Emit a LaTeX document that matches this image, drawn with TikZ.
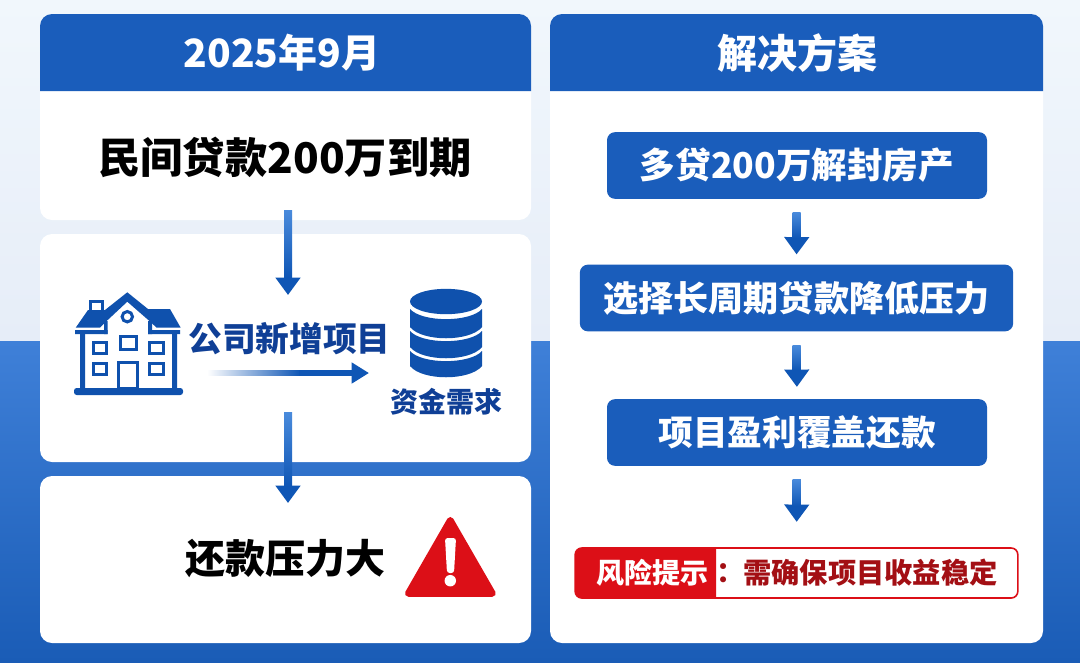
\documentclass[tikz,border=0pt]{standalone}
\usepackage{fontspec}
\setmainfont{Noto Sans CJK SC}
\usetikzlibrary{arrows.meta,positioning}
\definecolor{headblue}{HTML}{1A5DBB}
\definecolor{flowblue}{HTML}{0F56B5}
\definecolor{flowlight}{HTML}{4A8BDC}
\definecolor{navytext}{HTML}{0F3F96}
\definecolor{iconblue}{HTML}{0F51AD}
\definecolor{alertred}{HTML}{DC0F17}
\definecolor{darkred}{HTML}{A30F14}
\definecolor{skytop}{HTML}{F1F7FC}
\definecolor{skylow}{HTML}{E6EDF8}
\definecolor{seatop}{HTML}{3F80D8}
\definecolor{sealow}{HTML}{1A5CB6}

\begin{document}
\begin{tikzpicture}[
    x=0.75pt, y=-0.75pt,
    card/.style={fill=white, rounded corners=9pt},
    head/.style={text=white, inner sep=0pt},
    bigtext/.style={text=black, inner sep=0pt},
    plan/.style={
      fill=headblue,
      rounded corners=6pt,
      minimum height=50pt,
      inner sep=0pt,
      text=white
    },
    flow/.style={-{Triangle[width=18pt,length=13pt]}, line width=6pt, draw=flowblue},
    thinflow/.style={-{Triangle[width=15pt,length=13pt]}, line width=3.75pt, draw=flowblue},
    icon/.style={draw=iconblue, line width=2.25pt, fill=white},
    navy/.style={text=navytext, inner sep=0pt}
  ]
    \useasboundingbox (0,0) rectangle (1080,662);
    \shade[top color=skytop, bottom color=skylow] (0,0) rectangle (1080,341);
    \shade[top color=seatop, bottom color=sealow] (0,341) rectangle (1080,662);

    \fill[card] (40,14) rectangle (531,220);
    \fill[card] (40,234) rectangle (531,462);
    \fill[card] (40,476) rectangle (531,643);
    \fill[card] (550,14) rectangle (1043,643);
    \fill[headblue] (40,91) [rounded corners=9pt] -- (40,14) -- (531,14) [sharp corners] -- (531,91) -- cycle;
    \fill[headblue] (550,91) [rounded corners=9pt] -- (550,14) -- (1043,14) [sharp corners] -- (1043,91) -- cycle;

    \node[head, font=\fontsize{29.2}{36}\selectfont\bfseries] (month) at (282,53) {2025年9月};
    \node[head, font=\fontsize{30}{36}\selectfont\bfseries] (answer) at (797,53) {解决方案};
    \node[bigtext, font=\fontsize{31.7}{38}\selectfont\bfseries] (loan) at (285,157.5) {民间贷款200万到期};
    \node[navy, font=\fontsize{25.3}{30}\selectfont\bfseries] (project) at (289.5,339) {公司新增项目};
    \node[navy, font=\fontsize{21}{26}\selectfont\bfseries] (funds) at (446,402) {资金需求};
    \node[bigtext, font=\fontsize{30}{36}\selectfont\bfseries] (repay) at (285,558) {还款压力大};

    \node[plan, minimum width=285pt, font=\fontsize{26.7}{32}\selectfont\bfseries] (plana) at (797,165.5) {\raisebox{-2.5pt}{多贷200万解封房产}};
    \node[plan, minimum width=325pt, font=\fontsize{26.3}{32}\selectfont\bfseries] (planb) at (796.5,298) {选择长周期贷款降低压力};
    \node[plan, minimum width=285pt, font=\fontsize{26}{32}\selectfont\bfseries] (planc) at (797,432.5) {项目盈利覆盖还款};
    \node[draw=alertred, line width=1.2pt, fill=white, rounded corners=5pt, minimum width=332pt, minimum height=37.5pt, inner sep=0pt] (risk) at (796.5,573) {};
    \fill[alertred] (716,548) [rounded corners=5pt] -- (575,548) -- (575,598) [sharp corners] -- (716,598) -- cycle;
    \node[text=white, inner sep=0pt, font=\fontsize{21}{26}\selectfont\bfseries] (risklabel) at (652,573) {风险提示};
    \node[text=darkred, inner sep=0pt, font=\fontsize{21.2}{26}\selectfont\bfseries] (riskcolon) at (731,573) {：};
    \node[text=darkred, inner sep=0pt, font=\fontsize{21.2}{26}\selectfont\bfseries] (risktext) at (870.5,573) {需确保项目收益稳定};

    \coordinate (arrowa) at (288,210);
    \coordinate (arrowb) at (288,295);
    \coordinate (arrowc) at (288,412);
    \coordinate (arrowd) at (288,503);
    \coordinate (growa) at (207,373);
    \coordinate (growb) at (369,373);

    \draw[flow] (arrowa) -- (arrowb);
    \draw[flow] (arrowc) -- (arrowd);
    \draw[thinflow] (growa) -- (growb);
    \draw[flow, shorten <=13pt, shorten >=7.5pt] (plana.south) -- (planb.north);
    \draw[flow, shorten <=10.5pt, shorten >=9pt] (planb.south) -- (planc.north);
    \draw[flow, shorten <=10pt, shorten >=19pt] (planc.south) -- (risk.north);

    \foreach \xa/\ya/\yb in {288/210/277, 288/412/486, 796.7/212/238, 796.7/345/370, 796.7/479/506}
      \shade[top color=flowlight, bottom color=flowblue] (\xa-4,\ya) rectangle (\xa+4,\yb);
    \shade[left color=white, right color=flowblue] (207,370.4) rectangle (300,375.6);
    \fill[flowblue] (299,370.4) rectangle (352,375.6);

    \fill[iconblue, rounded corners=2pt] (74,388) rectangle (183,395);
    \fill[iconblue] (80,333) rectangle (85,389) (172,333) rectangle (177,389);
    \fill[iconblue] (75,330) rectangle (107.7,334) (148,330) rectangle (180,334);
    \fill[iconblue] (104,321) rectangle (107.7,334) (148,321) rectangle (152,334);
    \draw[icon] (90,301) rectangle (102.5,311);
    \fill[iconblue] (75.7,327.7) -- (88,310) -- (105,310) -- (127.3,292.3) -- (148,309) -- (170,309) -- (180.7,327.7) -- (156.7,327.7) -- (148.3,320) -- (127.3,301.7) -- (107.7,320) -- (100,327.7) -- cycle;
    \draw[icon] (127.3,316.7) circle (3.9pt);
    \draw[icon] (120,336.5) rectangle (136.8,349.5);
    \draw[icon] (93.2,342.5) rectangle (106.8,353.5);
    \draw[icon] (149.8,342.5) rectangle (163.5,353.5);
    \draw[icon] (93.2,363.2) rectangle (106.8,374.5);
    \draw[icon] (149.8,363.2) rectangle (163.5,374.5);
    \draw[icon] (118.8,362.5) rectangle (137.5,388);

    \fill[iconblue] (446,301.5) ellipse (27pt and 9.5pt);
    \foreach \ya/\yb in {309/327, 331/347, 351/366}
      \fill[iconblue] (410,\ya) .. controls (422,\ya+13.5) and (470,\ya+13.5) .. (482,\ya) -- (482,\yb) .. controls (470,\yb+15) and (422,\yb+15) .. (410,\yb) -- cycle;

    \fill[alertred, draw=alertred, line width=5pt, line join=round] (450.3,520.3) -- (408.3,593.4) -- (492.4,593.4) -- cycle;
    \fill[white, rounded corners=2pt] (445,538) -- (456,538) -- (454,573) -- (447,573) -- cycle;
    \fill[white] (450.3,580.7) circle (4.3pt);
\end{tikzpicture}
\end{document}
